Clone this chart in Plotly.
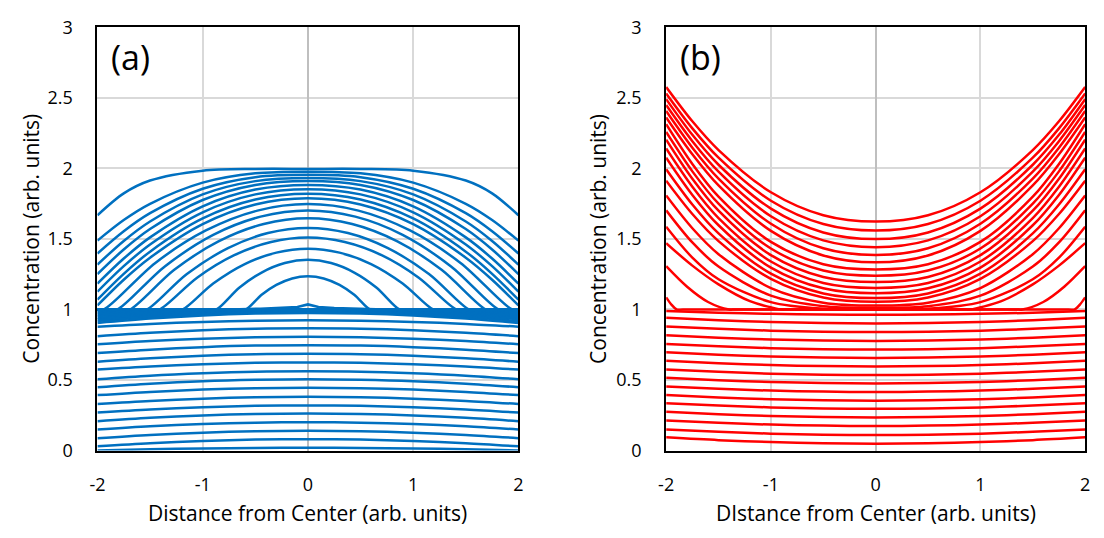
import plotly.graph_objects as go

# Half-width sample positions (profiles are symmetric about x = 0)
HALF_X = [0.0, 0.5, 1.0, 1.5, 2.0]
HALF_X_EDGE = [0.0, 0.5, 1.0, 1.5, 1.75, 2.0]

# ---------------- panel (a) ----------------
# profiles below the plateau, sampled at HALF_X
a_below = [
    [0.020, 0.019, 0.015, 0.009, 0.000],
    [0.081, 0.078, 0.068, 0.052, 0.030],
    [0.140, 0.137, 0.127, 0.111, 0.088],
    [0.201, 0.198, 0.188, 0.172, 0.149],
    [0.262, 0.259, 0.249, 0.232, 0.208],
    [0.320, 0.317, 0.307, 0.291, 0.269],
    [0.381, 0.378, 0.368, 0.352, 0.330],
    [0.445, 0.442, 0.432, 0.416, 0.393],
    [0.506, 0.502, 0.492, 0.474, 0.449],
    [0.562, 0.559, 0.548, 0.531, 0.506],
    [0.625, 0.622, 0.612, 0.596, 0.574],
    [0.686, 0.683, 0.672, 0.654, 0.630],
    [0.747, 0.744, 0.733, 0.715, 0.691],
    [0.806, 0.803, 0.793, 0.777, 0.754],
    [0.867, 0.864, 0.853, 0.835, 0.811],
    [0.923, 0.920, 0.912, 0.898, 0.878],
]

# profiles crowding just under the plateau, sampled at HALF_X
a_crowd = [
    [0.975, 0.971, 0.958, 0.936, 0.905],
    [0.984, 0.980, 0.968, 0.947, 0.918],
    [0.990, 0.986, 0.975, 0.956, 0.930],
    [0.994, 0.991, 0.981, 0.965, 0.942],
    [0.997, 0.994, 0.986, 0.972, 0.953],
    [0.999, 0.997, 0.990, 0.979, 0.964],
    [1.000, 0.998, 0.994, 0.986, 0.975],
    [1.000, 0.999, 0.996, 0.992, 0.985],
    [1.000, 1.000, 0.998, 0.996, 0.993],
]

# small central bump sitting on the plateau
a_bump_x = [0.0, 0.1, 0.25, 0.45, 0.65, 1.0, 1.5, 2.0]
a_bump_y = [1.036, 1.018, 1.011, 1.006, 1.001, 1.0, 1.0, 1.0]

# domes that fall back onto the plateau before reaching the boundary
a_dome_x = [
    [0.0, 0.15, 0.30, 0.44, 0.59, 0.65, 2.0],
    [0.0, 0.22, 0.44, 0.65, 0.87, 0.93, 2.0],
    [0.0, 0.30, 0.60, 0.90, 1.19, 1.25, 2.0],
    [0.0, 0.35, 0.70, 1.05, 1.41, 1.47, 2.0],
    [0.0, 0.38, 0.76, 1.15, 1.53, 1.59, 2.0],
    [0.0, 0.42, 0.85, 1.27, 1.69, 1.75, 2.0],
    [0.0, 0.45, 0.90, 1.36, 1.81, 1.87, 2.0],
    [0.0, 0.48, 0.97, 1.45, 1.94, 2.0],
]
a_dome_y = [
    [1.235, 1.220, 1.174, 1.104, 1.0, 1.0, 1.0],
    [1.352, 1.329, 1.262, 1.156, 1.0, 1.0, 1.0],
    [1.431, 1.403, 1.322, 1.184, 1.0, 1.0, 1.0],
    [1.510, 1.478, 1.385, 1.227, 1.0, 1.0, 1.0],
    [1.578, 1.542, 1.435, 1.251, 1.0, 1.0, 1.0],
    [1.646, 1.606, 1.483, 1.281, 1.0, 1.0, 1.0],
    [1.702, 1.658, 1.529, 1.305, 1.0, 1.0, 1.0],
    [1.747, 1.701, 1.560, 1.330, 1.0, 1.0],
]

# domes still above the plateau at the boundary, sampled at HALF_X_EDGE
a_wall = [
    [1.788, 1.744, 1.605, 1.367, 1.211, 1.029],
    [1.820, 1.779, 1.645, 1.410, 1.253, 1.070],
    [1.853, 1.816, 1.689, 1.461, 1.307, 1.126],
    [1.883, 1.850, 1.731, 1.511, 1.361, 1.183],
    [1.910, 1.883, 1.776, 1.570, 1.425, 1.251],
    [1.932, 1.910, 1.816, 1.624, 1.486, 1.318],
    [1.955, 1.938, 1.856, 1.683, 1.555, 1.397],
    [1.977, 1.965, 1.899, 1.749, 1.634, 1.488],
    [1.996, 1.996, 1.984, 1.914, 1.823, 1.668],
]

# ---------------- panel (b) ----------------
b_below = [
    [0.049, 0.052, 0.060, 0.074, 0.094],
    [0.110, 0.113, 0.120, 0.133, 0.150],
    [0.174, 0.177, 0.184, 0.197, 0.214],
    [0.235, 0.238, 0.245, 0.258, 0.275],
    [0.296, 0.299, 0.306, 0.319, 0.336],
    [0.354, 0.357, 0.364, 0.377, 0.394],
    [0.415, 0.418, 0.425, 0.438, 0.455],
    [0.476, 0.479, 0.486, 0.499, 0.516],
    [0.535, 0.538, 0.545, 0.558, 0.575],
    [0.596, 0.599, 0.606, 0.619, 0.636],
    [0.657, 0.660, 0.667, 0.680, 0.697],
    [0.716, 0.719, 0.726, 0.739, 0.756],
    [0.777, 0.780, 0.787, 0.800, 0.817],
    [0.840, 0.843, 0.850, 0.863, 0.880],
    [0.901, 0.904, 0.911, 0.924, 0.941],
    [0.962, 0.964, 0.969, 0.977, 0.990],
]

# U-shaped profiles rising toward the boundaries, sampled at HALF_X_EDGE
b_rise = [
    [1.623, 1.668, 1.831, 2.130, 2.334, 2.577],
    [1.560, 1.606, 1.771, 2.076, 2.284, 2.531],
    [1.499, 1.546, 1.715, 2.026, 2.238, 2.491],
    [1.442, 1.490, 1.661, 1.977, 2.193, 2.449],
    [1.386, 1.434, 1.608, 1.928, 2.147, 2.407],
    [1.334, 1.383, 1.557, 1.879, 2.100, 2.361],
    [1.284, 1.321, 1.479, 1.800, 2.032, 2.314],
    [1.239, 1.276, 1.432, 1.750, 1.979, 2.258],
    [1.194, 1.230, 1.385, 1.700, 1.927, 2.204],
    [1.153, 1.188, 1.340, 1.648, 1.870, 2.141],
    [1.115, 1.150, 1.297, 1.597, 1.812, 2.076],
    [1.081, 1.114, 1.254, 1.539, 1.744, 1.994],
    [1.054, 1.085, 1.217, 1.485, 1.677, 1.913],
    [1.028, 1.048, 1.152, 1.392, 1.576, 1.808],
    [1.012, 1.023, 1.098, 1.304, 1.475, 1.703],
    [1.000, 1.005, 1.052, 1.214, 1.368, 1.587],
]

# profiles flat on the plateau in the middle, lifting off near the boundaries
b_lift_x = [
    [0.0, 0.84, 0.9, 1.2, 1.5, 1.75, 2.0],
    [0.0, 1.34, 1.4, 1.6, 1.8, 2.0],
    [0.0, 1.84, 1.9, 1.95, 2.0],
]
b_lift_y = [
    [1.0, 1.0, 1.0, 1.059, 1.178, 1.311, 1.470],
    [1.0, 1.0, 1.0, 1.053, 1.161, 1.307],
    [1.0, 1.0, 1.0, 1.035, 1.086],
]

BLUE = "#0070C0"
RED = "#FF0000"
FONT = "Open Sans"
LINE_W = 2.5


def mirror(xh, yh):
    xs = [-v for v in xh[:0:-1]] + list(xh)
    ys = list(yh[:0:-1]) + list(yh)
    return xs, ys


fig = go.Figure()


def add(xh, yh, color, axis, shape="spline"):
    xs, ys = mirror(xh, yh)
    fig.add_trace(go.Scatter(
        x=xs, y=ys, mode="lines",
        line=dict(color=color, width=LINE_W, shape=shape, smoothing=0.9),
        xaxis="x" if axis == 1 else "x2",
        yaxis="y" if axis == 1 else "y2",
        showlegend=False, hoverinfo="skip",
    ))


for row in a_below + a_crowd:
    add(HALF_X, row, BLUE, 1)
add(a_bump_x, a_bump_y, BLUE, 1, shape="linear")
for xh, yh in zip(a_dome_x, a_dome_y):
    add(xh, yh, BLUE, 1)
for row in a_wall:
    add(HALF_X_EDGE, row, BLUE, 1)

for row in b_below:
    add(HALF_X, row, RED, 2)
for row in b_rise:
    add(HALF_X_EDGE, row, RED, 2)
for xh, yh in zip(b_lift_x, b_lift_y):
    add(xh, yh, RED, 2)

W, H = 1104, 538
A_L, A_R = 90.5, 516.5
B_L, B_R = 666.0, 1090.0
TOP, BOT = 15.0, 458.0

tick_font = dict(family=FONT, size=18, color="#000000")


def xaxis(dom, anchor):
    return dict(
        domain=dom, anchor=anchor, range=[-2, 2],
        tickvals=[-2, -1, 0, 1, 2], ticktext=["-2", "-1", "0", "1", "2"],
        showgrid=True, gridcolor="#d9d9d9", gridwidth=1.5,
        zeroline=True, zerolinecolor="#bfbfbf", zerolinewidth=2,
        showline=True, mirror=True, linecolor="#000000", linewidth=2,
        ticks="", ticklabelstandoff=17, tickfont=tick_font,
    )


def yaxis(anchor):
    return dict(
        domain=[1 - BOT / H, 1 - TOP / H], anchor=anchor, range=[0, 3],
        tickvals=[0, 0.5, 1, 1.5, 2, 2.5, 3],
        ticktext=["0", "0.5", "1", "1.5", "2", "2.5", "3"],
        showgrid=True, gridcolor="#d9d9d9", gridwidth=1.5,
        zeroline=False,
        showline=True, mirror=True, linecolor="#000000", linewidth=2,
        ticks="", ticklabelstandoff=19, tickfont=tick_font,
    )


title_font = dict(family=FONT, size=21, color="#000000")
panel_font = dict(family=FONT, size=34, color="#000000")

annotations = [
    dict(text="Distance from Center (arb. units)", x=(A_L + A_R) / 2 / W, y=1 - 523 / H,
         xref="paper", yref="paper", showarrow=False, font=title_font,
         xanchor="center", yanchor="middle"),
    dict(text="DIstance from Center (arb. units)", x=(B_L + B_R) / 2 / W, y=1 - 523 / H,
         xref="paper", yref="paper", showarrow=False, font=title_font,
         xanchor="center", yanchor="middle"),
    dict(text="Concentration (arb. units)", x=23 / W, y=1 - (TOP + BOT) / 2 / H,
         xref="paper", yref="paper", showarrow=False, font=title_font, textangle=-90,
         xanchor="center", yanchor="middle"),
    dict(text="Concentration (arb. units)", x=597 / W, y=1 - (TOP + BOT) / 2 / H,
         xref="paper", yref="paper", showarrow=False, font=title_font, textangle=-90,
         xanchor="center", yanchor="middle"),
    dict(text="(a)", x=0.028, y=0.93, xref="x domain", yref="y domain",
         showarrow=False, font=panel_font, xanchor="left", yanchor="middle"),
    dict(text="(b)", x=0.028, y=0.93, xref="x2 domain", yref="y2 domain",
         showarrow=False, font=panel_font, xanchor="left", yanchor="middle"),
]

fig.update_layout(
    width=W, height=H,
    margin=dict(l=0, r=0, t=0, b=0),
    paper_bgcolor="white", plot_bgcolor="white",
    xaxis=xaxis([A_L / W, A_R / W], "y"),
    yaxis=yaxis("x"),
    xaxis2=xaxis([B_L / W, B_R / W], "y2"),
    yaxis2=yaxis("x2"),
    annotations=annotations,
)

# page body without the default browser margin so the figure sits at the origin
fig.write_html("out.html", post_script="document.body.style.margin='0';")
